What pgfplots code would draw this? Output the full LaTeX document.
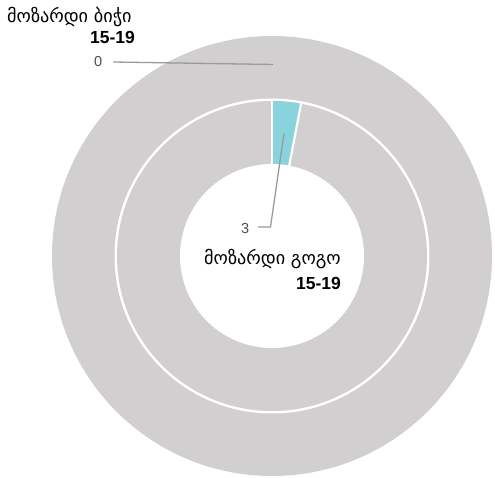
\documentclass[border=0pt]{standalone}
\usepackage{pgfplots}
\pgfplotsset{compat=1.18}
\usepackage{fontspec}
\setmainfont{Liberation Sans}
\newfontfamily\geo{DejaVu Sans}
\definecolor{ringgray}{HTML}{D1CFD0}
\definecolor{tealslice}{HTML}{89D4DC}
\definecolor{leadgray}{HTML}{9A9A9A}
\definecolor{labgray}{HTML}{4D4D4D}
% data: share (%) of the first category in each ring
\def\boys{0}   % outer ring: მოზარდი ბიჭი 15-19
\def\girls{3}  % inner ring: მოზარდი გოგო 15-19
\pgfmathsetmacro\girlend{90-3.6*\girls}
\begin{document}
\begin{tikzpicture}
\begin{axis}[scale only axis, width=495pt, height=477pt,
  xmin=0, xmax=495, ymin=0, ymax=477, hide axis, clip=false]
\path (axis cs:0,0) rectangle (axis cs:495,477);
% outer ring
\fill[ringgray] (axis cs:272,221) circle[radius=220pt];
\fill[white] (axis cs:272,221) circle[radius=157.5pt];
% inner ring
\fill[ringgray] (axis cs:272,221) circle[radius=155pt];
\fill[tealslice] (axis cs:272,221) -- ++(90:155pt) arc[start angle=90, end angle=\girlend, radius=155pt] -- cycle;
\draw[white, line width=2.2pt] (axis cs:272,221) -- ++(90:156pt);
\draw[white, line width=2.2pt] (axis cs:272,221) -- ++(\girlend:156pt);
\fill[white] (axis cs:272,221) circle[radius=92pt];
% leader lines and value labels
\draw[leadgray, line width=1.3pt] (axis cs:113,415) -- (axis cs:273,412.5);
\node[anchor=base east, inner sep=0pt, text=labgray, font=\fontsize{14.5}{16}\selectfont] at (axis cs:102.5,410) {\boys};
\draw[leadgray, line width=1.3pt] (axis cs:258,250) -- (axis cs:270.5,250) -- (axis cs:284,343.5);
\node[anchor=base east, inner sep=0pt, text=labgray, font=\fontsize{14.5}{16}\selectfont] at (axis cs:249.5,243) {\girls};
% titles
\node[anchor=base west, inner sep=0pt, font=\geo\fontsize{18.2}{20}\selectfont] at (axis cs:7,454) {მოზარდი ბიჭი};
\node[anchor=base east, inner sep=0pt, font=\bfseries\fontsize{17.5}{20}\selectfont] at (axis cs:135,433) {15-19};
\node[anchor=base, inner sep=0pt, font=\geo\fontsize{18.2}{20}\selectfont] at (axis cs:272.5,212) {მოზარდი გოგო};
\node[anchor=base east, inner sep=0pt, font=\bfseries\fontsize{17.5}{20}\selectfont] at (axis cs:341,188) {15-19};
\end{axis}
\end{tikzpicture}
\end{document}
